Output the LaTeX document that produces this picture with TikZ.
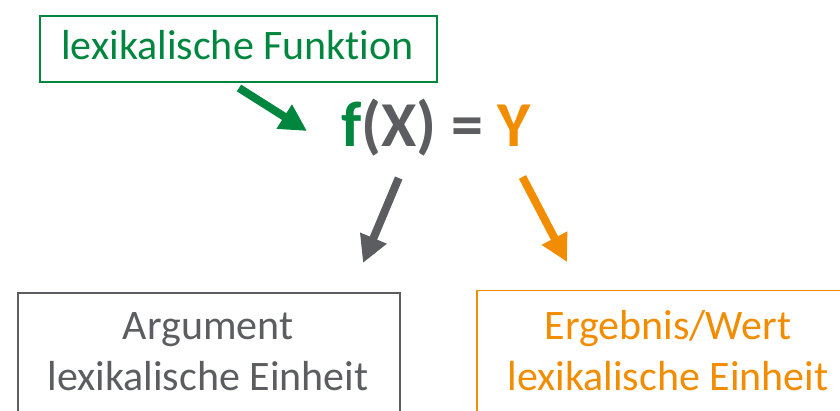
\documentclass[tikz,border=0pt]{standalone}
\usepackage{fontspec}
\setmainfont[Ligatures={NoCommon}]{Carlito}
\usetikzlibrary{arrows.meta}
\definecolor{lfgreen}{RGB}{0,134,62}
\definecolor{fgray}{RGB}{92,93,96}
\definecolor{forange}{RGB}{242,140,0}
\tikzset{
  lbl/.style={inner sep=0pt, anchor=base, font=\fontsize{42}{50}\selectfont},
  bigarrow/.style={line width=8pt, -{Triangle[width=27pt,length=27pt]}},
  framebox/.style={draw, line width=1.8pt, inner sep=0pt, anchor=north west}
}
\begin{document}
\begin{tikzpicture}[x=1pt,y=-1pt]
\useasboundingbox (0,0) rectangle (840,411);
\clip (0,0) rectangle (840,411);
% top box
\node[framebox, draw=lfgreen, minimum width=397pt, minimum height=66pt] (lfbox) at (39,15) {};
\node[lbl, text=lfgreen] (lftext) at (237.5,60) {lexikalische Funktion};
% formula
\node[anchor=base west, inner sep=0pt, font=\bfseries\fontsize{64}{70}\selectfont] (fx) at (341,147)
  {\textcolor{lfgreen}{f}\textcolor{fgray}{(X) =} \textcolor{forange}{Y}};
% bottom boxes
\node[framebox, draw=fgray, minimum width=382pt, minimum height=160pt] (argbox) at (17,292) {};
\node[lbl, text=fgray] (arg1) at (208,340) {Argument};
\node[lbl, text=fgray] (arg2) at (208,390) {lexikalische Einheit};
\node[framebox, draw=forange, line width=1.5pt, minimum width=390pt, minimum height=160pt] (resbox) at (476,290) {};
\node[lbl, text=forange] (res1) at (668,340) {Ergebnis/Wert};
\node[lbl, text=forange] (res2) at (668,390) {lexikalische Einheit};
% arrows
\coordinate (g1) at (239,88);
\coordinate (g2) at (307,131);
\coordinate (a1) at (398.7,178);
\coordinate (a2) at (363,263);
\coordinate (r1) at (522.5,177);
\coordinate (r2) at (567,262);
\draw[bigarrow, draw=lfgreen, fill=lfgreen] (g1) -- (g2);
\draw[bigarrow, draw=fgray, fill=fgray] (a1) -- (a2);
\draw[bigarrow, draw=forange, fill=forange] (r1) -- (r2);
\end{tikzpicture}
\end{document}
